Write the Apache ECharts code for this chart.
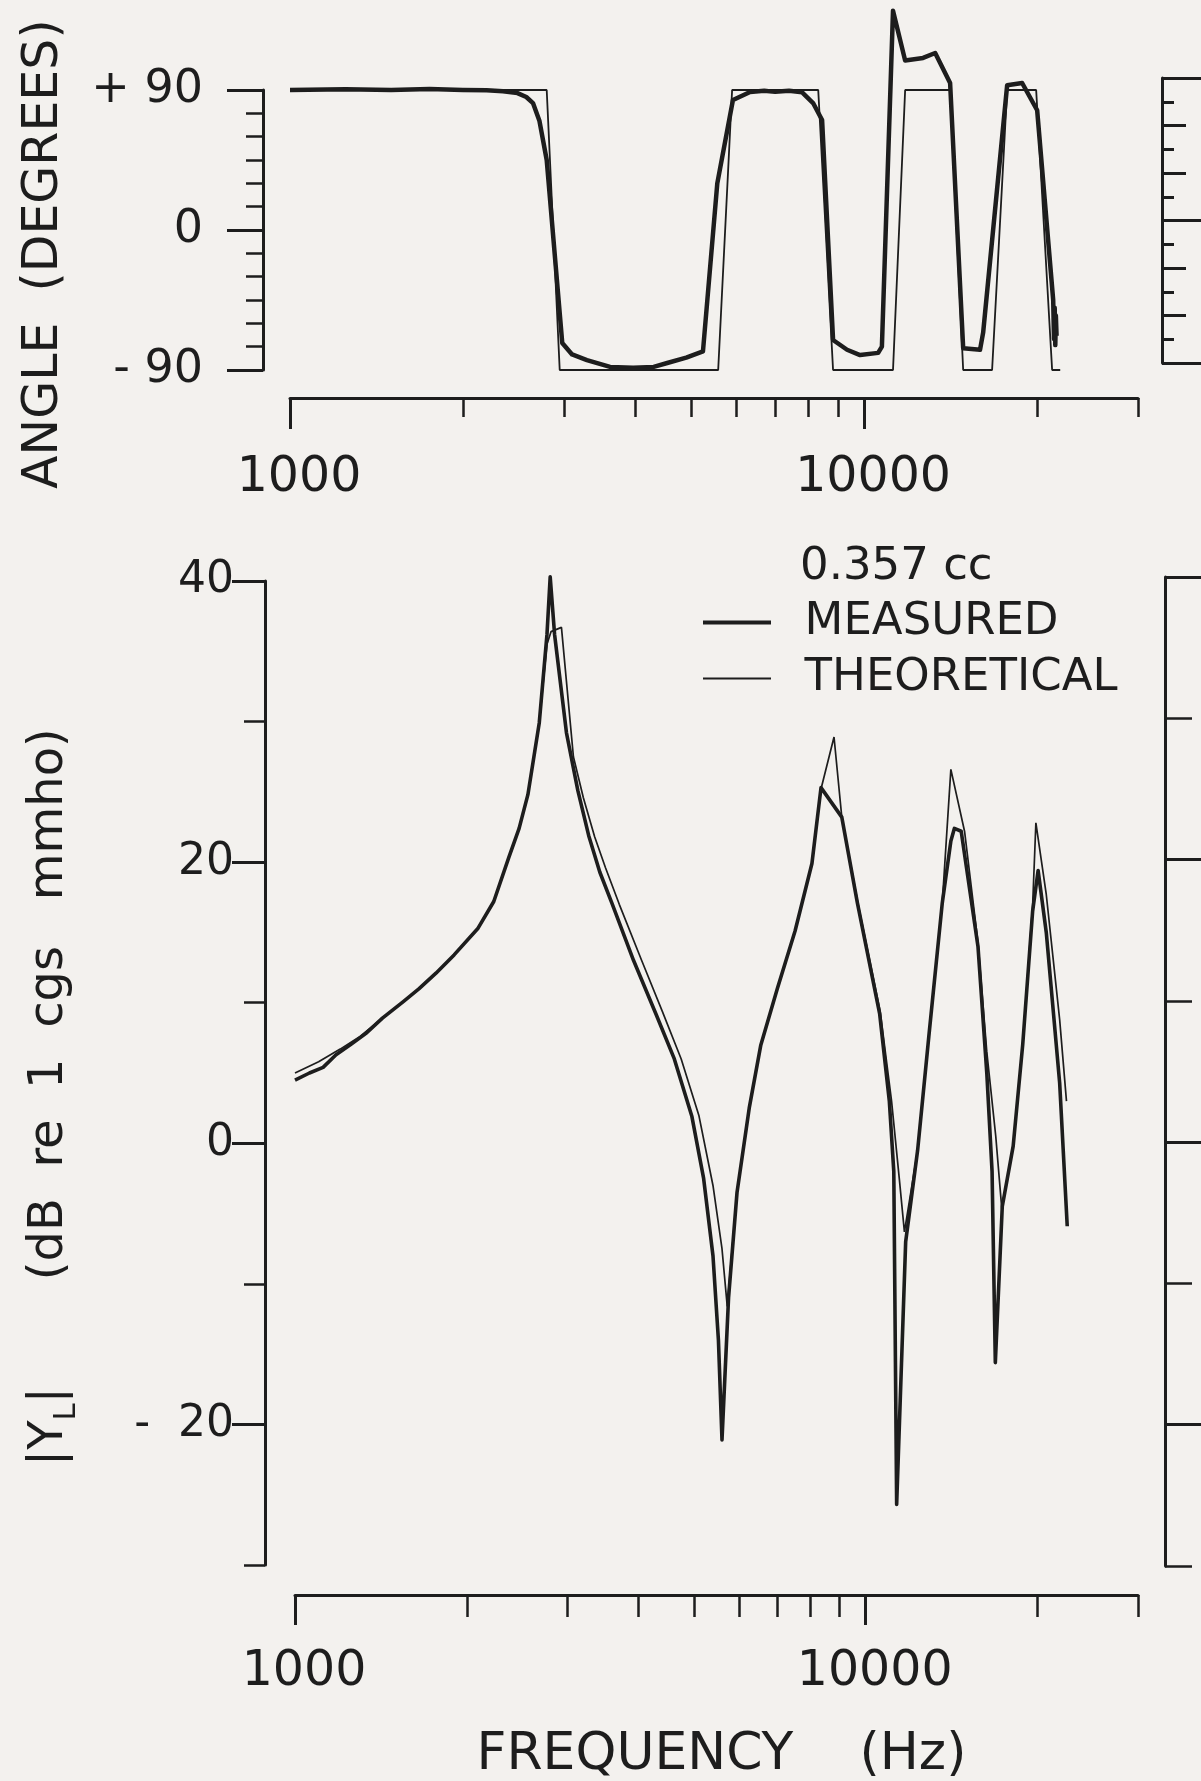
<!DOCTYPE html>
<html>
<head>
<meta charset="utf-8">
<script src="https://cdn.jsdelivr.net/npm/echarts@6/dist/echarts.min.js"></script>
<style>
html,body{margin:0;padding:0;background:#f3f1ee;}
#chart{width:1201px;height:1781px;}
</style>
</head>
<body>
<div id="chart"></div>
<script>
// ---------------- data ----------------
// Upper panel: phase angle (degrees) vs frequency (Hz)
const phaseTheoFreq = [1000, 2800, 2950, 5570, 5890, 8320, 8830, 11230, 11790, 14120, 14880, 16710, 17750, 19940, 21260, 21960];
const phaseTheoDeg  = [90, 90, -90, -90, 90, 90, -90, -90, 90, 90, -90, -90, 90, 90, -90, -90];

const phaseMeasFreq = [1000, 1250, 1500, 1750, 2000, 2200, 2350, 2490, 2580, 2650, 2720, 2800, 2980, 3100, 3290, 3610, 3960, 4300, 4540, 4900, 5240, 5550, 5910, 6330, 6700, 7000, 7400, 7800, 8150, 8450, 8830, 9340, 9840, 10580, 10740, 11230, 11790, 12670, 13300, 14120, 14880, 15920, 16120, 17750, 18850, 20020, 21350, 21420, 21480, 21530, 21580, 21640];
const phaseMeasDeg  = [90, 90.5, 90, 90.6, 90, 89.8, 89.2, 88, 85.5, 81.6, 70, 45, -72.6, -80, -83.6, -88, -88.5, -88, -85.5, -82, -78, 30, 83.6, 88.7, 89.5, 88.8, 89.5, 88.5, 81.6, 70.7, -70.7, -77, -80.4, -79, -75, 141, 109, 110.6, 113.8, 94.5, -76, -77, -66, 93, 94.5, 77, -45, -70, -50, -74, -55, -68];

// Lower panel: |Y_L| (dB re 1 cgs mmho) vs frequency (Hz)
const magMeasFreq = [1000, 1060, 1120, 1180, 1250, 1330, 1423, 1550, 1650, 1766, 1900, 2093, 2230, 2368, 2470, 2559, 2679, 2764, 2800, 2850, 2990, 3130, 3270, 3420, 3590, 3920, 4290, 4620, 4960, 5200, 5400, 5520, 5600, 5750, 5950, 6250, 6550, 7000, 7520, 8050, 8350, 9080, 9670, 10580, 11000, 11200, 11330, 11750, 12330, 12900, 13620, 14100, 14300, 14700, 15730, 16300, 16650, 16870, 17350, 18130, 18840, 19610, 20050, 20720, 21870, 22550];
const magMeasDb   = [4.5, 5.0, 5.4, 6.3, 7.0, 7.8, 8.9, 10.1, 11.0, 12.1, 13.4, 15.3, 17.2, 20.3, 22.4, 24.8, 29.9, 36.2, 40.3, 36.2, 29.2, 25.1, 21.9, 19.3, 17.1, 13.0, 9.2, 6.0, 1.9, -2.5, -8.0, -14.0, -21.1, -11.0, -3.5, 2.5, 7.0, 11.0, 15.1, 19.9, 25.3, 23.2, 17.1, 9.2, 3.0, -2.0, -25.7, -7.0, -0.5, 7.6, 17.1, 21.5, 22.4, 22.2, 14.0, 5.0, -2.0, -15.6, -4.5, -0.2, 7.0, 16.5, 19.4, 15.0, 4.3, -5.9];

const magTheoFreq = [1000, 1100, 1200, 1300, 1423, 1550, 1650, 1766, 1900, 2093, 2230, 2368, 2470, 2559, 2679, 2764, 2810, 2930, 3075, 3200, 3350, 3500, 3700, 4050, 4400, 4750, 5100, 5400, 5600, 5720, 5950, 6250, 6550, 7000, 7520, 8050, 8350, 8800, 9080, 9700, 10600, 11100, 11450, 11690, 12330, 12900, 13620, 14100, 14900, 15730, 16300, 16900, 17320, 18130, 18840, 19610, 19870, 20720, 21870, 22480];
const magTheoDb   = [5.0, 5.8, 6.7, 7.6, 8.9, 10.1, 11.0, 12.1, 13.4, 15.3, 17.2, 20.3, 22.4, 24.8, 29.9, 35.5, 36.4, 36.7, 27.5, 24.6, 21.8, 19.6, 17.0, 13.0, 9.4, 6.0, 2.0, -3.0, -7.5, -11.6, -3.5, 2.5, 7.0, 11.0, 15.1, 19.9, 25.2, 28.9, 23.2, 17.0, 9.4, 3.0, -2.5, -6.3, -0.5, 7.6, 17.1, 26.6, 22.2, 14.3, 6.5, 0.5, -4.7, -0.2, 7.0, 16.9, 22.8, 17.7, 8.8, 3.0];

// Axis ticks / labels
const freqMinorTicks = [1000, 2000, 3000, 4000, 5000, 6000, 7000, 8000, 9000, 10000, 20000, 30000];
const freqMajorTicks = [1000, 10000];
const dbMajorTicks = [-20, 0, 20, 40];
const legendNames = ['MEASURED', 'THEORETICAL'];

// ---------------- chart ----------------
const INK = '#1d1d1d';
const FONT = 'DejaVu Sans';
const pairs = (xs, ys) => xs.map((x, i) => [x, ys[i]]);
const noSplit = { show: false };

function logAxis(grid, offset, ticks, tickLen, tickW, showLine, labelVals, margin, extra) {
  return Object.assign({
    gridIndex: grid, type: 'log', logBase: 10, min: 1000, max: 30000, position: 'bottom', offset: offset,
    axisLine: { show: showLine, onZero: false, lineStyle: { color: INK, width: 3 } },
    axisTick: { show: true, customValues: ticks, length: tickLen, lineStyle: { color: INK, width: tickW } },
    axisLabel: labelVals ? { show: true, customValues: labelVals, formatter: v => String(Math.round(v)),
      fontFamily: FONT, fontSize: 49, color: INK, margin: margin, padding: [0, 0, 0, 18] } : { show: false },
    minorTick: { show: false }, splitLine: noSplit, minorSplitLine: noSplit
  }, extra || {});
}

function valAxis(grid, min, max, cfg) {
  return Object.assign({
    gridIndex: grid, type: 'value', min: min, max: max, position: 'left',
    splitLine: noSplit, minorTick: { show: false }
  }, cfg);
}

const chart = echarts.init(document.getElementById('chart'), null, { renderer: 'canvas' });

const option = {
  backgroundColor: '#f3f1ee',
  animation: false,
  title: {
    text: '0.357 cc', left: 800, top: 545, padding: 0,
    textStyle: { fontFamily: FONT, fontSize: 45, fontWeight: 'normal', color: INK }
  },
  legend: {
    orient: 'vertical', left: 701, top: 600, padding: 0, itemGap: 11, itemWidth: 68, itemHeight: 4,
    selectedMode: false, formatter: '  {name}',
    itemStyle: { opacity: 0 },
    textStyle: { fontFamily: FONT, fontSize: 45, color: INK },
    data: [
      { name: legendNames[0], lineStyle: { width: 4, color: INK } },
      { name: legendNames[1], lineStyle: { width: 1.8, color: INK } }
    ]
  },
  grid: [
    { left: 290, right: 63, top: 90, height: 280, containLabel: false, outerBoundsMode: 'none' },
    { left: 295, right: 63, top: 581, height: 984, containLabel: false, outerBoundsMode: 'none' },
    { left: 1162, top: 78, width: 200, height: 285, containLabel: false, outerBoundsMode: 'none' },
    { left: 1165, top: 577, width: 200, height: 989, containLabel: false, outerBoundsMode: 'none' }
  ],
  xAxis: [
    logAxis(0, 28, freqMinorTicks, 19, 2.5, true, null),
    logAxis(0, 28, freqMajorTicks, 31, 3, false, freqMajorTicks, 56),
    logAxis(1, 30, freqMinorTicks, 22, 2.5, true, null),
    logAxis(1, 30, freqMajorTicks, 30, 3, false, freqMajorTicks, 53, {
      name: 'FREQUENCY    (Hz)', nameLocation: 'middle', nameGap: 134,
      nameTextStyle: { fontFamily: FONT, fontSize: 52, color: INK, padding: [0, 0, 0, 10] }
    }),
    { gridIndex: 2, type: 'value', min: 0, max: 1, show: false },
    { gridIndex: 3, type: 'value', min: 0, max: 1, show: false }
  ],
  yAxis: [
    valAxis(0, -90, 90, { interval: 15, offset: 27,
      axisLine: { show: true, onZero: false, lineStyle: { color: INK, width: 3 } },
      axisTick: { length: 17, lineStyle: { color: INK, width: 2.5 } }, axisLabel: { show: false } }),
    valAxis(0, -90, 90, { interval: 90, offset: 27,
      axisLine: { show: false, onZero: false },
      axisTick: { length: 36, lineStyle: { color: INK, width: 3 } },
      axisLabel: { fontFamily: FONT, fontSize: 46, color: INK, margin: 60,
        formatter: v => (v > 0 ? '+ ' : v < 0 ? '- ' : '') + Math.abs(v) } }),
    valAxis(1, -30, 40, { interval: 10, offset: 30,
      axisLine: { show: true, onZero: false, lineStyle: { color: INK, width: 3 } },
      axisTick: { length: 21, lineStyle: { color: INK, width: 2.5 } }, axisLabel: { show: false } }),
    valAxis(1, -30, 40, { interval: 10, offset: 30,
      axisLine: { show: false, onZero: false },
      axisTick: { customValues: dbMajorTicks, length: 33, lineStyle: { color: INK, width: 3 } },
      axisLabel: { customValues: dbMajorTicks, fontFamily: FONT, fontSize: 44, color: INK, margin: 31,
        formatter: v => (v < 0 ? '-  ' : '') + Math.abs(v) } }),
    // partial neighbouring panels at the right edge
    valAxis(2, -90, 90, { interval: 15,
      axisLine: { show: true, onZero: false, lineStyle: { color: INK, width: 3 } },
      axisTick: { inside: true, length: 12, lineStyle: { color: INK, width: 3 } }, axisLabel: { show: false } }),
    valAxis(2, -90, 90, { interval: 30, axisLine: { show: false, onZero: false },
      axisTick: { inside: true, length: 24, lineStyle: { color: INK, width: 3 } }, axisLabel: { show: false } }),
    valAxis(2, -90, 90, { interval: 90, axisLine: { show: false, onZero: false },
      axisTick: { inside: true, length: 60, lineStyle: { color: INK, width: 3 } }, axisLabel: { show: false } }),
    valAxis(3, -30, 40, { interval: 10,
      axisLine: { show: true, onZero: false, lineStyle: { color: INK, width: 3 } },
      axisTick: { inside: true, length: 27, lineStyle: { color: INK, width: 2.5 } }, axisLabel: { show: false } }),
    valAxis(3, -30, 40, { interval: 10, axisLine: { show: false, onZero: false },
      axisTick: { inside: true, customValues: dbMajorTicks, length: 60, lineStyle: { color: INK, width: 3 } },
      axisLabel: { show: false } })
  ],
  series: [
    { name: 'angle theoretical', type: 'line', xAxisIndex: 0, yAxisIndex: 0, symbol: 'none', clip: false,
      color: INK, data: pairs(phaseTheoFreq, phaseTheoDeg), lineStyle: { color: INK, width: 1.8 }, silent: true, z: 2 },
    { name: 'angle measured', type: 'line', xAxisIndex: 0, yAxisIndex: 0, symbol: 'none', clip: false,
      color: INK, data: pairs(phaseMeasFreq, phaseMeasDeg), lineStyle: { color: INK, width: 4.5, join: 'round' }, silent: true, z: 3 },
    { name: legendNames[1], type: 'line', xAxisIndex: 2, yAxisIndex: 2, symbol: 'none', clip: false,
      color: INK, data: pairs(magTheoFreq, magTheoDb), lineStyle: { color: INK, width: 1.7 }, silent: true, z: 2 },
    { name: legendNames[0], type: 'line', xAxisIndex: 2, yAxisIndex: 2, symbol: 'none', clip: false,
      color: INK, data: pairs(magMeasFreq, magMeasDb), lineStyle: { color: INK, width: 3.6, join: 'round' }, silent: true, z: 3 }
  ],
  graphic: [
    { type: 'text', x: 44, y: 489, rotation: Math.PI / 2, silent: true,
      style: { text: 'ANGLE  (DEGREES)', fontFamily: FONT, fontSize: 49, fill: INK, align: 'left', verticalAlign: 'middle' } },
    { type: 'text', x: 50, y: 1466, rotation: Math.PI / 2, silent: true,
      style: { text: '|Y{s|L}|       (dB  re  1  cgs   mmho)', fontFamily: FONT, fontSize: 48, lineHeight: 64, fill: INK,
        align: 'left', verticalAlign: 'middle',
        rich: { s: { fontFamily: FONT, fontSize: 31, lineHeight: 64, verticalAlign: 'bottom', fill: INK } } } }
  ]
};
chart.setOption(option);
</script>
</body>
</html>
